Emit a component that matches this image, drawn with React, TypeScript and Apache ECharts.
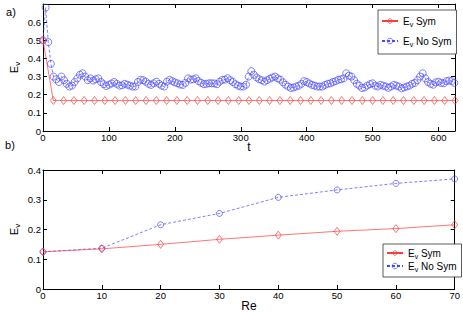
import React, { useEffect, useRef } from "react";
import * as echarts from "echarts";

// ---- Data ----
// a) time series, E_v vs t
const symStep = 15.625; // sampling interval of the "Sym" run
const symValues = [
  0.5, 0.168, 0.168, 0.168, 0.168, 0.168, 0.168, 0.168, 0.168, 0.168,
  0.168, 0.168, 0.168, 0.168, 0.168, 0.168, 0.168, 0.168, 0.168, 0.168,
  0.168, 0.168, 0.168, 0.168, 0.168, 0.168, 0.168, 0.168, 0.168, 0.168,
  0.168, 0.168, 0.168, 0.168, 0.168, 0.168, 0.168, 0.168, 0.168, 0.168,
  0.168,
];
const noSymStep = 4; // sampling interval of the "No Sym" run
const noSymValues = [
  0.5, 0.68, 0.49, 0.37, 0.3, 0.285, 0.27, 0.3, 0.28, 0.26,
  0.245, 0.25, 0.27, 0.29, 0.31, 0.318, 0.3, 0.28, 0.29, 0.278,
  0.285, 0.29, 0.27, 0.258, 0.248, 0.255, 0.262, 0.27, 0.26, 0.25,
  0.252, 0.26, 0.255, 0.25, 0.245, 0.245, 0.27, 0.282, 0.28, 0.272,
  0.26, 0.254, 0.263, 0.272, 0.26, 0.25, 0.245, 0.272, 0.282, 0.275,
  0.268, 0.263, 0.256, 0.254, 0.265, 0.29, 0.283, 0.285, 0.29, 0.275,
  0.265, 0.258, 0.26, 0.263, 0.263, 0.262, 0.258, 0.272, 0.282, 0.283,
  0.291, 0.28, 0.27, 0.258, 0.25, 0.245, 0.245, 0.255, 0.3, 0.33,
  0.31, 0.295, 0.285, 0.28, 0.272, 0.28, 0.288, 0.295, 0.3, 0.29,
  0.283, 0.268, 0.255, 0.245, 0.237, 0.24, 0.245, 0.25, 0.26, 0.275,
  0.27, 0.262, 0.254, 0.25, 0.245, 0.245, 0.245, 0.254, 0.26, 0.263,
  0.27, 0.275, 0.282, 0.285, 0.29, 0.318, 0.305, 0.3, 0.28, 0.26,
  0.25, 0.237, 0.24, 0.25, 0.258, 0.263, 0.25, 0.245, 0.254, 0.25,
  0.245, 0.238, 0.245, 0.254, 0.25, 0.245, 0.235, 0.24, 0.245, 0.25,
  0.26, 0.265, 0.28, 0.3, 0.318, 0.29, 0.27, 0.26, 0.255, 0.268,
  0.272, 0.265, 0.263, 0.275, 0.278, 0.275, 0.265,
];

// b) E_v vs Re
const reValues = [0, 10, 20, 30, 40, 50, 60, 70];
const symVsRe = [0.125, 0.135, 0.15, 0.167, 0.181, 0.194, 0.203, 0.216];
const noSymVsRe = [0.125, 0.137, 0.216, 0.254, 0.308, 0.333, 0.355, 0.37];

const FONT = "Liberation Sans, Arial, Helvetica, sans-serif";
const RED = "#ff3c3c";
const BLUE = "#4848ff";
const AX = "#000";

const pairs = (xs: number[], ys: number[]) => ys.map((v, i) => [xs[i], v]);
const stepped = (step: number, ys: number[]) => ys.map((v, i) => [i * step, v]);

function xAxisDef(grid: number, pos: "top" | "bottom", min: number, max: number, interval: number) {
  const main = pos === "bottom";
  return {
    type: "value",
    gridIndex: grid,
    position: pos,
    min,
    max,
    interval,
    axisLine: { show: true, onZero: false, lineStyle: { color: AX, width: 1 } },
    axisTick: { show: true, inside: true, length: 4, lineStyle: { color: AX, width: 1 } },
    axisLabel: {
      show: main,
      showMaxLabel: max % interval === 0,
      margin: 1,
      fontFamily: FONT,
      fontSize: 9.5,
      color: "#000",
    },
    splitLine: { show: false },
  };
}

function yAxisDef(grid: number, pos: "left" | "right", min: number, max: number, interval: number, showMax: boolean, withName: boolean) {
  const main = pos === "left";
  return {
    type: "value",
    gridIndex: grid,
    position: pos,
    min,
    max,
    interval,
    name: main && withName ? "{e|E}{s|v}" : undefined,
    nameLocation: "middle",
    nameRotate: 90,
    nameGap: 22,
    nameMoveOverlap: false,
    nameTextStyle: {
      rich: {
        e: { fontFamily: FONT, fontSize: 11, lineHeight: 15, color: "#000" },
        s: { fontFamily: FONT, fontSize: 8, lineHeight: 8, verticalAlign: "bottom", color: "#000" },
      },
    },
    axisLine: { show: true, onZero: false, lineStyle: { color: AX, width: 1 } },
    axisTick: { show: true, inside: true, length: 4, lineStyle: { color: AX, width: 1 } },
    axisLabel: {
      show: main,
      showMaxLabel: showMax,
      margin: 2,
      fontFamily: FONT,
      fontSize: 9.5,
      color: "#000",
      formatter: (v: number) => String(Math.round(v * 10) / 10),
    },
    splitLine: { show: false },
  };
}

function legendDef(left: number, top: number, gap: number, pad: number) {
  return {
    orient: "vertical",
    left,
    top,
    padding: [pad, 5, pad, 3],
    itemGap: gap,
    itemWidth: 16,
    itemHeight: 7,
    borderColor: "#333",
    borderWidth: 0.8,
    borderRadius: 0,
    backgroundColor: "#fff",
    data: [
      { name: "Sym", itemStyle: { color: "transparent", borderColor: RED, borderWidth: 0.7 } },
      { name: "No Sym", itemStyle: { color: "transparent", borderColor: BLUE, borderWidth: 0.7 } },
    ],
    formatter: (n: string) => `{e|E}{s|v}{e| ${n}}`,
    textStyle: {
      rich: {
        e: { fontFamily: FONT, fontSize: 10, lineHeight: 14, color: "#000" },
        s: { fontFamily: FONT, fontSize: 7, lineHeight: 7, verticalAlign: "bottom", color: "#000" },
      },
    },
    selectedMode: false,
  };
}

export default function App() {
  const ref = useRef<HTMLDivElement>(null);
  useEffect(() => {
    if (!ref.current) return;
    const chart = echarts.init(ref.current, undefined, { renderer: "svg" });
    const symLine = { color: RED, width: 0.7, type: "solid" };
    const noSymLine = { color: BLUE, width: 0.7, type: [3, 2] };
    const symItem = { color: "transparent", borderColor: RED, borderWidth: 0.7 };
    const noSymItem = { color: "transparent", borderColor: BLUE, borderWidth: 0.7 };
    const label = (text: string, x: number, y: number, size: number) => ({
      type: "text",
      x,
      y,
      style: { text, font: `${size}px ${FONT}`, fill: "#000", align: "center", verticalAlign: "middle" },
    });
    chart.setOption({
      animation: false,
      backgroundColor: "#fff",
      grid: [
        { left: 42, right: 8, top: 4, height: 127, containLabel: false },
        { left: 42, right: 7, top: 170, height: 119, containLabel: false },
      ],
      xAxis: [
        xAxisDef(0, "bottom", 0, 625, 100),
        xAxisDef(0, "top", 0, 625, 100),
        xAxisDef(1, "bottom", 0, 70, 10),
        xAxisDef(1, "top", 0, 70, 10),
      ],
      yAxis: [
        yAxisDef(0, "left", 0, 0.7, 0.1, false, true),
        yAxisDef(0, "right", 0, 0.7, 0.1, false, false),
        yAxisDef(1, "left", 0, 0.4, 0.1, true, true),
        yAxisDef(1, "right", 0, 0.4, 0.1, true, false),
      ],
      legend: [legendDef(378, 10, 8, 6), legendDef(383, 244, 1, 4)],
      graphic: [
        label("a)", 11, 11.5, 11),
        label("b)", 10, 144.5, 11),
        label("t", 249, 146.5, 12),
        label("Re", 249, 305.5, 12),
      ],
      series: [
        {
          name: "Sym",
          type: "line",
          xAxisIndex: 0,
          yAxisIndex: 0,
          data: stepped(symStep, symValues),
          symbol: "diamond",
          symbolSize: [6, 8],
          showAllSymbol: true,
          lineStyle: symLine,
          itemStyle: symItem,
          z: 3,
        },
        {
          name: "No Sym",
          type: "line",
          xAxisIndex: 0,
          yAxisIndex: 0,
          data: stepped(noSymStep, noSymValues),
          symbol: "circle",
          symbolSize: 7,
          showAllSymbol: true,
          lineStyle: noSymLine,
          itemStyle: noSymItem,
          z: 2,
        },
        {
          name: "Sym",
          type: "line",
          xAxisIndex: 2,
          yAxisIndex: 2,
          data: pairs(reValues, symVsRe),
          symbol: "diamond",
          symbolSize: [6, 8],
          lineStyle: symLine,
          itemStyle: symItem,
          z: 3,
        },
        {
          name: "No Sym",
          type: "line",
          xAxisIndex: 2,
          yAxisIndex: 2,
          data: pairs(reValues, noSymVsRe),
          symbol: "circle",
          symbolSize: 6,
          lineStyle: noSymLine,
          itemStyle: noSymItem,
          z: 2,
        },
      ],
    });
    return () => chart.dispose();
  }, []);
  return (
    <div
      ref={ref}
      style={{ position: "absolute", left: 0, top: 0, width: 463, height: 312, background: "#fff" }}
    />
  );
}
